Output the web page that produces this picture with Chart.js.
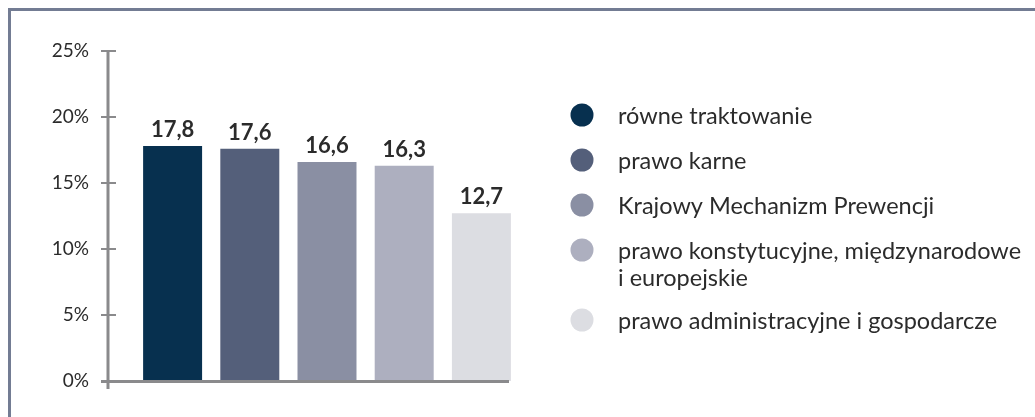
<!DOCTYPE html>
<html>
<head>
<meta charset="utf-8">
<style>
  html, body { margin: 0; padding: 0; background: #fff; }
  #wrap { position: relative; width: 1035px; height: 417px; }
</style>
<script src="https://cdn.jsdelivr.net/npm/chart.js@4.4.1/dist/chart.umd.min.js"></script>
</head>
<body>
<div id="wrap"><canvas id="chart" width="1035" height="417"></canvas></div>
<script>
    'use strict';

    // data
    const categories = [
        ['równe traktowanie'],
        ['prawo karne'],
        ['Krajowy Mechanizm Prewencji'],
        ['prawo konstytucyjne, międzynarodowe', 'i europejskie'],
        ['prawo administracyjne i gospodarcze']
    ];
    const values = [17.8, 17.6, 16.6, 16.3, 12.7];
    const barColors = ['#07304f', '#545f7a', '#8a8fa3', '#adafbf', '#dcdde2'];
    const yTicks = [0, 5, 10, 15, 20, 25];

    const FONT = 'Lato, "Noto Sans", sans-serif';
    const TEXT = '#2b2b2b';
    const AXIS = '#8a8a8c';

    function formatVal(v) {
        return v.toFixed(1).replace('.', ',');
    }

    // frame, axes, tick labels, value labels, legend
    const decorPlugin = {
        id: 'decor',
        beforeDraw(chart) {
            const ctx = chart.ctx;
            ctx.save();
            ctx.fillStyle = '#737c93';
            ctx.fillRect(8, 8, chart.width - 8, 3);
            ctx.fillRect(8, 8, 3, chart.height - 8);
            ctx.restore();
        },
        afterDatasetsDraw(chart) {
            const ctx = chart.ctx;
            const y = chart.scales.y;
            const axisX = 108;
            const top = y.getPixelForValue(yTicks[yTicks.length - 1]);
            const zero = y.getPixelForValue(0);

            ctx.save();
            ctx.fillStyle = AXIS;
            // vertical axis, runs a bit below the baseline
            ctx.fillRect(axisX - 1.5, top, 3, zero + 8 - top);
            // tick marks and labels
            ctx.font = '19px ' + FONT;
            ctx.textAlign = 'right';
            ctx.textBaseline = 'middle';
            yTicks.forEach(t => {
                const py = Math.round(y.getPixelForValue(t));
                ctx.fillStyle = AXIS;
                ctx.fillRect(101, py - 1, 15, 2);
                ctx.fillStyle = TEXT;
                ctx.fillText(t + '%', 89, py);
            });
            // baseline
            ctx.fillStyle = AXIS;
            ctx.fillRect(101, zero - 1, 408, 3);

            // value labels
            const meta = chart.getDatasetMeta(0);
            ctx.fillStyle = TEXT;
            ctx.font = 'bold 22px ' + FONT;
            ctx.textAlign = 'center';
            ctx.textBaseline = 'alphabetic';
            meta.data.forEach((bar, i) => {
                ctx.fillText(formatVal(values[i]), bar.x, bar.y - 9);
            });

            // legend
            let cy = 115;
            categories.forEach((lines, i) => {
                ctx.fillStyle = barColors[i];
                ctx.beginPath();
                ctx.arc(582, cy, 11.5, 0, Math.PI * 2);
                ctx.fill();
                ctx.fillStyle = TEXT;
                ctx.font = '23.5px ' + FONT;
                ctx.textAlign = 'left';
                ctx.textBaseline = 'middle';
                lines.forEach((ln, k) => {
                    ctx.fillText(ln, 618, cy + 1 + k * 27);
                });
                cy += 45 + (lines.length - 1) * 25;
            });
            ctx.restore();
        }
    };

    new Chart(document.getElementById('chart'), {
        type: 'bar',
        data: {
            labels: categories.map(c => c.join(' ')),
            datasets: [{
                data: values,
                backgroundColor: barColors,
                borderWidth: 0,
                barPercentage: 0.764,
                categoryPercentage: 1
            }]
        },
        options: {
            responsive: false,
            animation: false,
            layout: { padding: { top: 51, bottom: 36, left: 0, right: 515 } },
            plugins: { legend: { display: false }, tooltip: { enabled: false } },
            scales: {
                x: { display: false, offset: true },
                y: {
                    min: 0,
                    max: 25,
                    afterFit(scale) { scale.width = 134; },
                    afterBuildTicks(scale) { scale.ticks = yTicks.map(v => ({ value: v })); },
                    grid: { display: false },
                    border: { display: false },
                    ticks: { display: false }
                }
            }
        },
        plugins: [decorPlugin]
    });
</script>
</body>
</html>
